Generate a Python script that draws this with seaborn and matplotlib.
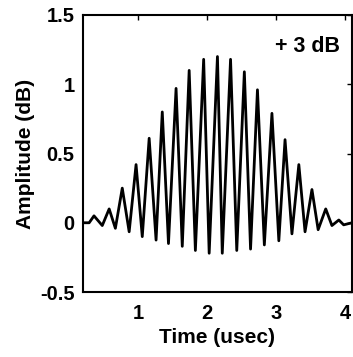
import matplotlib
matplotlib.use('Agg')
import matplotlib.pyplot as plt
import seaborn as sns

# peak / trough points
time_us = [0.20, 0.29, 0.36, 0.48, 0.58, 0.67, 0.77, 0.87, 0.97, 1.06,
           1.16, 1.26, 1.35, 1.44, 1.55, 1.64, 1.74, 1.83, 1.95, 2.03,
           2.15, 2.22, 2.34, 2.43, 2.54, 2.63, 2.73, 2.83, 2.94, 3.04,
           3.13, 3.23, 3.33, 3.42, 3.52, 3.61, 3.72, 3.81, 3.91, 3.98, 4.10]
amp_db = [0.0, 0.0, 0.05, -0.02, 0.10, -0.04, 0.25, -0.065, 0.42, -0.10,
          0.61, -0.125, 0.80, -0.15, 0.97, -0.17, 1.10, -0.20, 1.18, -0.22,
          1.20, -0.22, 1.18, -0.20, 1.09, -0.19, 0.96, -0.16, 0.79, -0.13,
          0.60, -0.08, 0.42, -0.065, 0.24, -0.05, 0.10, -0.02, 0.02, -0.015, 0.0]

x_ticks = [1, 2, 3, 4]
y_ticks = [-0.5, 0, 0.5, 1, 1.5]
y_tick_labels = ['-0.5', '0', '0.5', '1', '1.5']

sns.set_style('white')
plt.rcParams['font.family'] = ['Liberation Sans', 'DejaVu Sans']
plt.rcParams['font.weight'] = 'bold'
plt.rcParams['text.color'] = 'black'
plt.rcParams['axes.labelcolor'] = 'black'
plt.rcParams['xtick.color'] = 'black'
plt.rcParams['ytick.color'] = 'black'

fig, ax = plt.subplots(figsize=(3.53, 3.57), dpi=100)
fig.subplots_adjust(left=0.235, right=0.997, top=0.958, bottom=0.182)

sns.lineplot(x=time_us, y=amp_db, color='black', linewidth=2.0, ax=ax)

ax.set_xlim(0.2, 4.1)
ax.set_ylim(-0.5, 1.5)
ax.set_xticks(x_ticks)
ax.set_xticklabels([str(t) for t in x_ticks])
ax.set_yticks(y_ticks)
ax.set_yticklabels(y_tick_labels)
ax.tick_params(direction='in', top=True, right=True, length=3.5, width=1,
               labelsize=14.5, colors='black')
ax.tick_params(axis='x', pad=8.5)
ax.tick_params(axis='y', pad=6)

for s in ax.spines.values():
    s.set_color('black')
    s.set_linewidth(1.5)

ax.set_xlabel('Time (usec)', fontsize=15, fontweight='bold', labelpad=4)
ax.set_ylabel('Amplitude (dB)', fontsize=15, fontweight='bold')
ax.yaxis.set_label_coords(-0.178, 0.5)

ax.text(0.955, 0.888, '+ 3 dB', transform=ax.transAxes, ha='right', va='center',
        fontsize=15.5, fontweight='bold')

fig.savefig('out.png', dpi=100)
